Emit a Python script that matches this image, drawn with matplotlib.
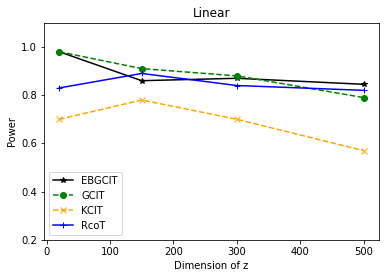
import matplotlib
matplotlib.use('Agg')
import matplotlib.pyplot as plt

dims = [20, 150, 300, 500]
ebgcit = [0.98, 0.86, 0.87, 0.845]
gcit = [0.98, 0.91, 0.88, 0.79]
kcit = [0.70, 0.78, 0.70, 0.57]
rcot = [0.83, 0.89, 0.84, 0.82]

fig = plt.figure(figsize=(386/72, 278/72), dpi=72)
ax = fig.add_axes([0.114, 0.137, 0.868, 0.781])

ax.plot(dims, ebgcit, color='black', linestyle='-', marker='*', label='EBGCIT')
ax.plot(dims, gcit, color='green', linestyle='--', marker='o', label='GCIT')
ax.plot(dims, kcit, color='orange', linestyle='--', marker='x', label='KCIT')
ax.plot(dims, rcot, color='blue', linestyle='-', marker='+', label='RcoT')

ax.set_ylim(0.2, 1.1)
ax.set_yticks([0.2, 0.4, 0.6, 0.8, 1.0])
ax.set_title('Linear')
ax.set_xlabel('Dimension of z')
ax.set_ylabel('Power')
ax.legend(loc='lower left')

fig.savefig('out.png', dpi=72)
